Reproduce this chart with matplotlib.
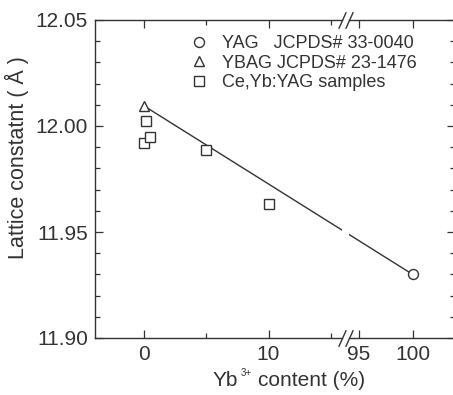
import numpy as np
import matplotlib
matplotlib.use('Agg')
import matplotlib.pyplot as plt
from matplotlib.lines import Line2D

plt.rcParams['font.family'] = ['Liberation Sans', 'DejaVu Sans']

# data
yag_x = [100]
yag_y = [11.930]
ybag_x = [0]
ybag_y = [12.0095]
sample_x = [0, 0.2, 0.5, 5, 10]
sample_y = [11.9922, 12.0023, 11.9946, 11.9889, 11.9633]

legend_labels = ['YAG   JCPDS# 33-0040', 'YBAG JCPDS# 23-1476', 'Ce,Yb:YAG samples']

ink = '#333333'
W, H = 453, 395

fig = plt.figure(figsize=(W / 100, H / 100), dpi=100)

bottom = (H - 338) / H
height = (338 - 20) / H
ax1 = fig.add_axes([95 / W, bottom, (342 - 95) / W, height])
ax2 = fig.add_axes([349 / W, bottom, (455 - 349) / W, height], sharey=ax1)

ax1.set_xlim(-3.93, 15.9)
ax2.set_xlim(94.06, 103.95)
ax1.set_ylim(11.90, 12.05)

for ax in (ax1, ax2):
    for s in ax.spines.values():
        s.set_color(ink)
        s.set_linewidth(1.0)
    ax.tick_params(which='both', direction='in', colors=ink, labelsize=15,
                   top=True, width=0.9, pad=5)
    ax.tick_params(which='major', length=6)
    ax.tick_params(which='minor', length=3.5)

ax1.spines['right'].set_visible(False)
ax2.spines['left'].set_visible(False)
ax1.tick_params(axis='y', which='both', right=False)
ax2.tick_params(axis='y', which='both', left=False, labelleft=False, right=True)

ax1.set_xticks([0, 10])
ax1.set_xticks([5, 15], minor=True)
ax2.set_xticks([95, 100])
ax1.set_yticks([11.90, 11.95, 12.00, 12.05])
ax1.set_yticks(np.arange(11.90, 12.051, 0.01), minor=True)
ax1.set_yticklabels(['11.90', '11.95', '12.00', '12.05'])

# straight guide line from the YBAG point to the YAG point (straight on the page)
p0 = ax1.transData.transform((ybag_x[0], ybag_y[0]))
p1 = ax2.transData.transform((yag_x[0], yag_y[0]))
for ax in (ax1, ax2):
    q0, q1 = ax.transData.inverted().transform([p0, p1])
    ax.plot([q0[0], q1[0]], [q0[1], q1[1]], color=ink, lw=1.0, zorder=2)

mk = dict(linestyle='none', markerfacecolor='white', markeredgecolor=ink,
          markeredgewidth=1.0, markersize=7.2, zorder=3, clip_on=False)
ax2.plot(yag_x, yag_y, marker='o', **mk)
ax1.plot(ybag_x, ybag_y, marker='^', **mk)
ax1.plot(sample_x, sample_y, marker='s', **mk)

# break marks
slash = [(-0.45, -1), (0.45, 1)]
for ax, xa in ((ax1, 1.0), (ax2, 0.0)):
    ax.plot([xa, xa], [0, 1], transform=ax.transAxes, marker=slash, markersize=12,
            linestyle='none', color=ink, mec=ink, mew=1.0, clip_on=False)

handles = [Line2D([], [], marker=m, **{k: v for k, v in mk.items() if k not in ('zorder', 'clip_on')})
           for m in ('o', '^', 's')]
fig.legend(handles, legend_labels, loc='upper left', bbox_to_anchor=(190 / W, 1 - 35 / H),
           frameon=False, fontsize=13, handlelength=1.0, handletextpad=0.75,
           labelspacing=0.15, borderpad=0, borderaxespad=0, labelcolor=ink)

fig.text(17 / W, 1 - 158 / H, 'Lattice constatnt ( Å )', rotation=90, ha='center',
         va='center', fontsize=15.5, color=ink)

# x label: "Yb" + small superscript + "content (%)"
renderer = fig.canvas.get_renderer()
t1 = fig.text(213 / W, 1 - 386 / H, 'Yb', ha='left', va='baseline', fontsize=15, color=ink)
bb = t1.get_window_extent(renderer)
fig.text((bb.x1 + 2) / W, 1 - 376 / H, '3+', fontsize=7, color=ink, va='baseline', ha='left')
fig.text(258 / W, 1 - 386 / H, 'content (%)', fontsize=15, color=ink, va='baseline', ha='left')

fig.savefig('out.png', dpi=100)
